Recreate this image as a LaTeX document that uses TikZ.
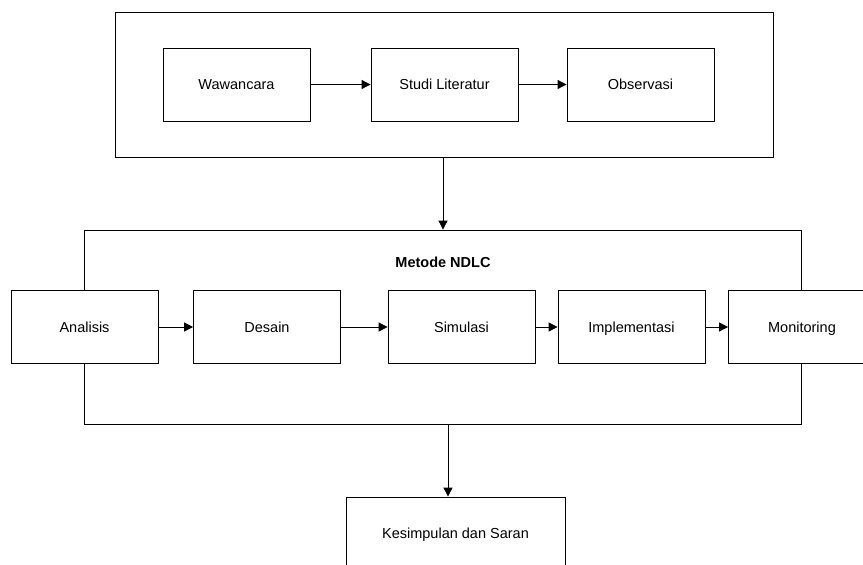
\documentclass[tikz,border=0pt]{standalone}
\usepackage{fontspec}
\setmainfont{Liberation Sans}
\usepackage{tikz}
\usetikzlibrary{arrows.meta}
\tikzset{
    proses/.style={draw,thick,fill=white,minimum width=147pt,minimum height=73pt,inner sep=0pt,text height=10.5pt,text depth=0pt,font=\fontsize{14.5}{17}\selectfont},
    wadah/.style={draw,thick,inner sep=0pt},
    panah/.style={-{Triangle[length=9pt,width=9pt]},thick}
}
\begin{document}
\begin{tikzpicture}[x=1pt,y=-1pt,line width=1.3pt]
        \useasboundingbox (0,0) rectangle (863,565);
        % pengumpulan data
        \node[wadah,minimum width=658pt,minimum height=145pt] (Kumpul) at (444,84.5) {};
        \node[proses] (wawancara) at (236.5,84.5) {Wawancara};
        \node[proses] (studi) at (444.5,84.5) {Studi Literatur};
        \node[proses] (observasi) at (640.5,84.5) {Observasi};
        \draw [panah] (wawancara.east) -- (studi.west);
        \draw [panah] (studi.east) -- (observasi.west);
        % metode NDLC
        \node[wadah,minimum width=717pt,minimum height=194pt] (NDLC) at (442.5,327) {};
        \node[font=\bfseries\fontsize{14.5}{17}\selectfont] (judul) at (443,262) {Metode NDLC};
        \node[proses] (analisis) at (84.5,327) {Analisis};
        \node[proses] (desain) at (267,327) {Desain};
        \node[proses] (simulasi) at (461.5,327) {Simulasi};
        \node[proses] (implementasi) at (631.5,327) {Implementasi};
        \node[proses] (monitoring) at (802,327) {Monitoring};
        \draw [panah] (analisis.east) -- (desain.west);
        \draw [panah] (desain.east) -- (simulasi.west);
        \draw [panah] (simulasi.east) -- (implementasi.west);
        \draw [panah] (implementasi.east) -- (monitoring.west);
        % kesimpulan
        \node[proses,minimum width=219pt] (kesimpulan) at (455.5,533.5) {Kesimpulan dan Saran};
        \coordinate (naik) at (443,0);
        \coordinate (turun) at (448,0);
        \draw [panah] (Kumpul.south -| naik) -- (NDLC.north -| naik);
        \draw [panah] (NDLC.south -| turun) -- (kesimpulan.north -| turun);
\end{tikzpicture}
\end{document}
